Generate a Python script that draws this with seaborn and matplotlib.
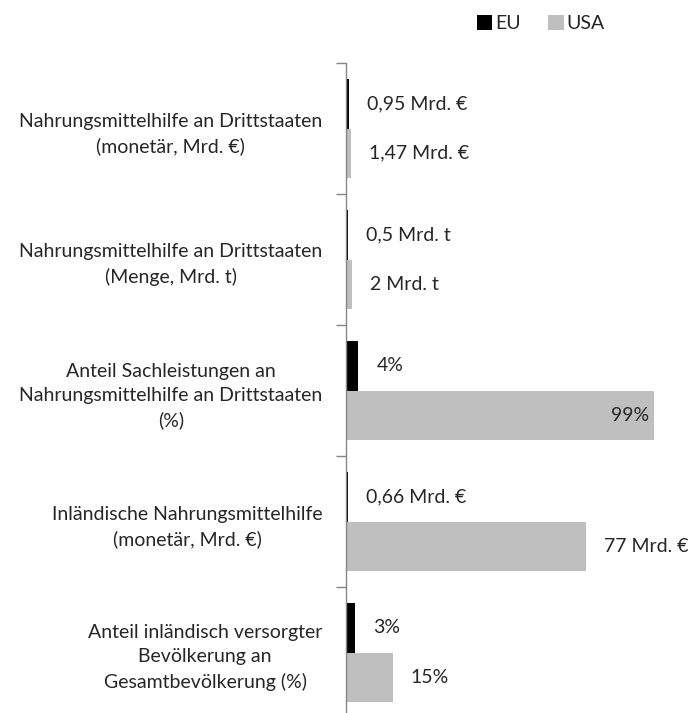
import matplotlib
matplotlib.use('Agg')
import matplotlib.pyplot as plt
import pandas as pd
import seaborn as sns

# Data
categories = [
    'Nahrungsmittelhilfe an Drittstaaten\n(monetär, Mrd. €)',
    'Nahrungsmittelhilfe an Drittstaaten\n(Menge, Mrd. t)',
    'Anteil Sachleistungen an\nNahrungsmittelhilfe an Drittstaaten\n(%)',
    'Inländische Nahrungsmittelhilfe\n(monetär, Mrd. €)',
    'Anteil inländisch versorgter\nBevölkerung an\nGesamtbevölkerung (%)',
]
eu_values = [0.95, 0.5, 4, 0.66, 3]
usa_values = [1.47, 2, 99, 77, 15]
eu_labels = ['0,95 Mrd. €', '0,5 Mrd. t', '4%', '0,66 Mrd. €', '3%']
usa_labels = ['1,47 Mrd. €', '2 Mrd. t', '99%', '77 Mrd. €', '15%']
regions = ['EU', 'USA']

df = pd.DataFrame({
    'category': categories * 2,
    'value': eu_values + usa_values,
    'region': ['EU'] * len(categories) + ['USA'] * len(categories),
})

sns.set_style('white')
plt.rcParams['font.family'] = ['Lato', 'DejaVu Sans']
font_size = 14
axis_color = '#868686'

fig = plt.figure(figsize=(6.99, 7.13), dpi=100)
ax = fig.add_axes([346 / 699, -5 / 713, 324 / 699, 655 / 713])

sns.barplot(data=df, y='category', x='value', hue='region', orient='h',
            palette=['black', '#bfbfbf'], width=0.75, linewidth=0,
            saturation=1, ax=ax, legend=True)

ax.set_xlim(0, 104)
ax.set_ylim(len(categories) - 0.5, -0.5)
ax.set_xlabel('')
ax.set_ylabel('')
ax.set_xticks([])

# boundary ticks as major, labels as minor ticks at the centres
n = len(categories)
ax.set_yticks([i - 0.5 for i in range(n + 1)])
ax.set_yticklabels([])
ax.set_yticks(range(n), categories, minor=True)
ax.tick_params(axis='y', which='major', length=7, width=1, color=axis_color, left=True)
ax.tick_params(axis='y', which='minor', length=0, pad=17, labelsize=font_size)
for lbl in ax.get_yticklabels(minor=True):
    lbl.set_multialignment('center')
    lbl.set_linespacing(1.5)

for side in ['top', 'right', 'bottom']:
    ax.spines[side].set_visible(False)
ax.spines['left'].set_color(axis_color)
ax.spines['left'].set_linewidth(1)

# value labels
all_labels = [eu_labels, usa_labels]
for container, labels in zip(ax.containers, all_labels):
    for patch, text in zip(container.patches, labels):
        w = patch.get_width()
        y = patch.get_y() + patch.get_height() / 2
        if w > 90:
            ax.annotate(text, (w, y), xytext=(-4, 0), textcoords='offset points',
                        ha='right', va='center', fontsize=font_size)
        else:
            ax.annotate(text, (w, y), xytext=(13, 0), textcoords='offset points',
                        ha='left', va='center', fontsize=font_size)

ax.legend(loc='upper left', bbox_to_anchor=(469 / 699, 1 - 7 / 713),
          bbox_transform=fig.transFigure, ncol=2, frameon=False,
          fontsize=font_size, handlelength=0.8, handleheight=0.8,
          handletextpad=0.15, columnspacing=1.4, borderaxespad=0)

fig.savefig('out.png', dpi=100)
